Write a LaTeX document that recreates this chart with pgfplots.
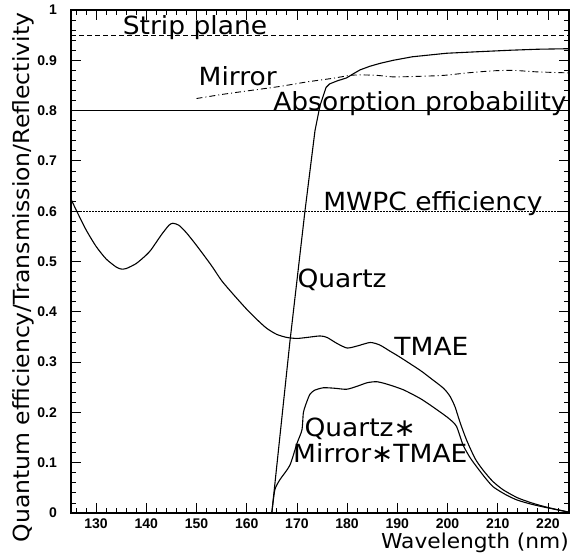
\documentclass[border=0pt]{standalone}
\usepackage{fontspec}
\usepackage{pgfplots}
\pgfplotsset{compat=1.18}
\newfontfamily\labfont{DejaVu Sans}[FakeStretch=1.06]
\newfontfamily\tickfont{Liberation Sans}
\begin{document}
\begin{tikzpicture}[x=1pt,y=1pt]
\useasboundingbox (0,0) rectangle (573,554);
\begin{axis}[
  at={(71pt,41pt)}, anchor=south west,
  scale only axis, width=498pt, height=503pt,
  xmin=125, xmax=224.2, ymin=0, ymax=1,
  xtick={130,140,150,160,170,180,190,200,210,220},
  ytick={0,0.1,0.2,0.3,0.4,0.5,0.6,0.7,0.8,0.9,1},
  yticklabels={0,0.1,0.2,0.3,0.4,0.5,0.6,0.7,0.8,0.9,1},
  minor xtick={126,128,...,224},
  minor ytick={0.02,0.04,0.06,0.08,0.12,0.14,0.16,0.18,0.22,0.24,0.26,0.28,0.32,0.34,0.36,0.38,0.42,0.44,0.46,0.48,0.52,0.54,0.56,0.58,0.62,0.64,0.66,0.68,0.72,0.74,0.76,0.78,0.82,0.84,0.86,0.88,0.92,0.94,0.96,0.98},
  tick align=inside,
  major tick length=10pt, minor tick length=5pt,
  every tick/.style={black, line width=0.8pt},
  axis line style={line width=1.2pt},
  /pgf/number format/assume math mode=true,
  ticklabel style={font=\tickfont\bfseries\fontsize{14}{14}\selectfont},
  xticklabel style={anchor=north, inner sep=0pt, yshift=-6pt},
  yticklabel style={anchor=east, inner sep=0pt, xshift=-14pt},
  clip=false,
]
% reference lines
\addplot[black, line width=0.9pt, dash pattern=on 5pt off 3pt] coordinates {(125,0.95) (224.2,0.95)};
\addplot[black, line width=1.1pt] coordinates {(125,0.8) (224.2,0.8)};
\addplot[black, line width=1.0pt, dash pattern=on 1.5pt off 1.5pt] coordinates {(125,0.6) (224.2,0.6)};
% Mirror
\addplot[black, line width=0.9pt, dash pattern=on 6pt off 3pt on 1pt off 3pt, smooth, tension=0.4] coordinates {
(150,0.824) (155,0.832) (160,0.839) (166.6,0.848) (172,0.857) (177,0.864) (180.6,0.870)
(182.6,0.871) (186,0.870) (189.2,0.867) (194,0.868) (199.2,0.870) (204,0.875) (209,0.879)
(213,0.880) (217.8,0.877) (224,0.875)};
% Quartz
\addplot[black, line width=1.1pt] coordinates {
(165,0) (168.6,0.34) (171.6,0.60) (173.6,0.76) (174.6,0.81) (175.8,0.846) (176.5,0.853)
(178,0.859) (179.9,0.865) (181.2,0.873) (182.6,0.881) (184.5,0.888) (186.6,0.894)
(189.2,0.900) (193,0.907) (199.8,0.914) (206,0.917) (212.5,0.920) (218,0.922) (224,0.923)};
% TMAE
\addplot[black, line width=1.1pt, smooth, tension=0.4] coordinates {
(125,0.624) (126,0.603) (128,0.563) (130,0.530) (132,0.505) (134,0.489) (135,0.485)
(136,0.486) (138,0.496) (140,0.513) (141,0.524) (143,0.553) (144.5,0.572) (145.3,0.576)
(146.5,0.572) (148,0.557) (150,0.532) (152.9,0.493) (155,0.462) (157.3,0.435) (160,0.405)
(162,0.385) (164,0.367) (166,0.355) (168,0.349) (170,0.347) (172,0.349) (174.6,0.352)
(176,0.349) (178,0.337) (180,0.328) (182,0.332) (184.6,0.339) (186.5,0.334) (188.5,0.322)
(190.5,0.310) (194.5,0.284) (196.5,0.269) (199.2,0.248) (200.5,0.232) (201.5,0.211)
(202.5,0.180) (203.8,0.145) (205.5,0.108) (207.1,0.085) (209,0.063) (211.1,0.046)
(214,0.030) (217.1,0.019) (220,0.011) (224,0.002)};
% Quartz*Mirror*TMAE
\addplot[black, line width=1.1pt, smooth, tension=0.4] coordinates {
(165,0.0) (165.6,0.046) (166.6,0.066) (168.6,0.095) (170,0.138) (171,0.165) (171.3,0.200)
(172,0.222) (172.6,0.236) (173.5,0.244) (175.3,0.249) (177.5,0.248) (179.9,0.246)
(182,0.252) (184,0.259) (185.9,0.261) (188,0.256) (191.2,0.245) (194.5,0.228) (196.5,0.215)
(199.2,0.196) (200.5,0.186) (201.8,0.172) (203.1,0.135) (204.5,0.110) (205.8,0.092)
(207.5,0.070) (209.1,0.052) (211.5,0.037) (213.8,0.026) (216.5,0.018) (219.1,0.012)
(224,0.002)};
% labels
\begin{scope}[every node/.style={font=\labfont\fontsize{25}{25}\selectfont, inner sep=0pt}]
\node[anchor=base] at (axis cs:149.7,0.952) {Strip plane};
\node[anchor=base] at (axis cs:158.2,0.849) {Mirror};
\node[anchor=base] at (axis cs:194.5,0.801) {Absorption probability};
\node[anchor=base] at (axis cs:197.1,0.601) {MWPC efficiency};
\node[anchor=base] at (axis cs:179.0,0.449) {Quartz};
\node[anchor=base] at (axis cs:196.8,0.314) {TMAE};
\node[anchor=base] at (axis cs:182.6,0.152) {Quartz∗};
\node[anchor=base] at (axis cs:186.6,0.100) {Mirror∗TMAE};
\node[anchor=base east, font=\labfont\fontsize{20.5}{20.5}\selectfont] at (rel axis cs:1,-0.0700) {Wavelength (nm)};
\node[anchor=base, rotate=90, font=\labfont\fontsize{22.2}{22.2}\selectfont] at (rel axis cs:-0.0843,0.468) {Quantum efficiency/Transmission/Reflectivity};
\end{scope}
\end{axis}
\end{tikzpicture}
\end{document}
